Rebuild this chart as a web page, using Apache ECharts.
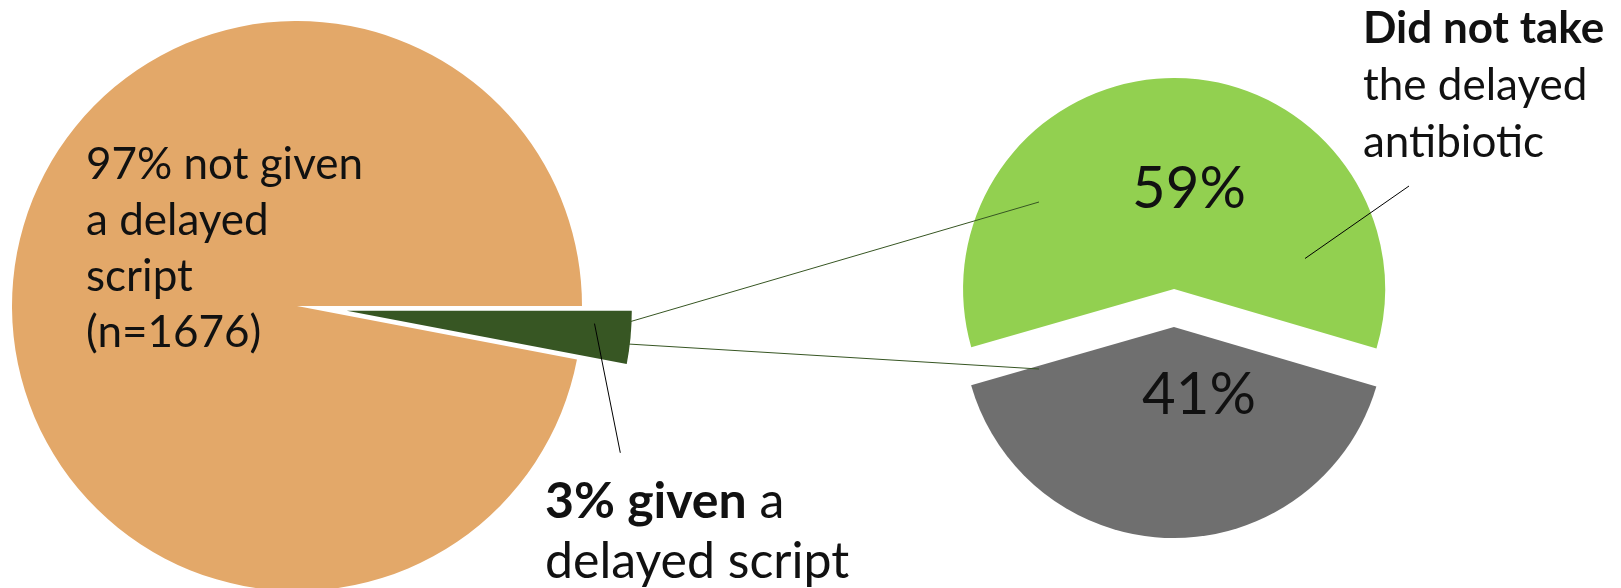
<!DOCTYPE html>
<html>
<head>
<meta charset="utf-8">
<script src="https://cdn.jsdelivr.net/npm/echarts@6/dist/echarts.min.js"></script>
<style>
  html, body { margin: 0; padding: 0; background: #ffffff; }
  #chart { width: 1621px; height: 588px; }
</style>
</head>
<body>
<div id="chart"></div>
<script>
// ---- data ----
const primaryNames = ['Given a delayed script', 'Not given a delayed script'];
const primaryValues = [3, 97];
const sampleSize = 1676;
const secondaryNames = ['Did not take the delayed antibiotic', 'Took the delayed antibiotic'];
const secondaryValues = [59, 41];

// ---- styles ----
const primaryColors = ['#375623', '#E3A869'];
const secondaryColors = ['#92D050', '#6F6F6F'];
const FONT = 'Lato, "Open Sans", sans-serif';
const TEXT = '#111111';

const chart = echarts.init(document.getElementById('chart'), null, { renderer: 'canvas' });

function txt(left, top, text, rich) {
  return {
    type: 'text', z: 100, left: left, top: top,
    style: { text: text, fill: TEXT, rich: rich }
  };
}
const richText = (fs, lh) => ({
  n: { fontSize: fs, lineHeight: lh, fill: TEXT, fontFamily: FONT },
  b: { fontSize: fs, lineHeight: lh, fill: TEXT, fontFamily: FONT, fontWeight: 'bold' }
});

const option = {
  animation: false,
  backgroundColor: '#ffffff',
  series: [
    {
      type: 'pie',
      center: [297, 306],
      radius: 285,
      startAngle: 0,
      clockwise: true,
      selectedMode: 'single',
      selectedOffset: 50,
      emphasis: { disabled: true },
      itemStyle: { borderWidth: 0 },
      label: { show: false },
      labelLine: { show: false },
      data: primaryValues.map((v, i) => ({
        name: primaryNames[i],
        value: v,
        selected: i === 0,
        itemStyle: { color: primaryColors[i] }
      }))
    },
    {
      type: 'pie',
      center: [1174, 308],
      radius: 211,
      startAngle: 196,
      clockwise: true,
      selectedMode: 'multiple',
      selectedOffset: 19,
      emphasis: { disabled: true },
      itemStyle: { borderWidth: 0 },
      label: { show: false },
      labelLine: { show: false },
      data: secondaryValues.map((v, i) => ({
        name: secondaryNames[i],
        value: v,
        selected: true,
        itemStyle: { color: secondaryColors[i] }
      }))
    }
  ],
  graphic: [
    // connector lines between the 3% slice and the breakdown pie
    { type: 'line', z: 90, shape: { x1: 629, y1: 322, x2: 1039, y2: 202 }, style: { stroke: '#375623', lineWidth: 1 } },
    { type: 'line', z: 90, shape: { x1: 628, y1: 344, x2: 1039, y2: 369 }, style: { stroke: '#375623', lineWidth: 1 } },
    // label leader lines
    { type: 'line', z: 90, shape: { x1: 594.5, y1: 323.6, x2: 620.3, y2: 452.8 }, style: { stroke: '#000000', lineWidth: 1 } },
    { type: 'line', z: 90, shape: { x1: 1409, y1: 186, x2: 1305, y2: 258.5 }, style: { stroke: '#000000', lineWidth: 1 } },
    // labels
    txt(86, 143,
      '{n|' + primaryValues[1] + '% not given}\n{n|a delayed}\n{n|script}\n{n|(n=' + sampleSize + ')}',
      richText(44, 56)),
    txt(545, 477,
      '{b|' + primaryValues[0] + '% given}{n| a}\n{n|delayed script}',
      richText(50, 60)),
    txt(1363, 7,
      '{b|Did not take}\n{n|the delayed}\n{n|antibiotic}',
      richText(44, 57)),
    {
      type: 'text', z: 100, x: 1189, y: 189,
      style: { text: secondaryValues[0] + '%', fill: TEXT, font: '58px ' + FONT, align: 'center', verticalAlign: 'middle' }
    },
    {
      type: 'text', z: 100, x: 1199, y: 395,
      style: { text: secondaryValues[1] + '%', fill: TEXT, font: '58px ' + FONT, align: 'center', verticalAlign: 'middle' }
    }
  ]
};
chart.setOption(option);
</script>
</body>
</html>
